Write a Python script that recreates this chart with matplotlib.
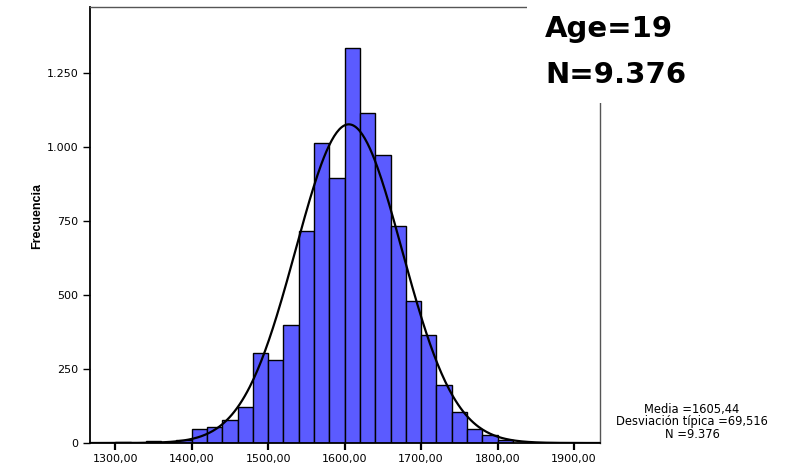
import numpy as np
import matplotlib.pyplot as plt
from matplotlib.patches import Rectangle
from matplotlib.ticker import FuncFormatter

plt.rcParams["font.family"] = ["DejaVu Sans"]

# histogram bins (width 20) and counts
bin_left = [1300, 1320, 1340, 1360, 1380, 1400, 1420, 1440, 1460, 1480,
            1500, 1520, 1540, 1560, 1580, 1600, 1620, 1640, 1660, 1680,
            1700, 1720, 1740, 1760, 1780, 1800]
counts = [3, 0, 6, 5, 9, 46, 54, 77, 122, 304,
          280, 400, 716, 1013, 895, 1333, 1115, 973, 733, 480,
          365, 196, 106, 48, 26, 10]
bin_width = 20

media = 1605.44
desv = 69.516
n_total = 9376

x_ticks = [1300, 1400, 1500, 1600, 1700, 1800, 1900]
y_ticks = [0, 250, 500, 750, 1000, 1250]

fig = plt.figure(figsize=(7.87, 4.67), dpi=100)
ax = fig.add_axes([0.1144, 0.0514, 0.648, 0.934])

ax.bar(bin_left, counts, width=bin_width, align="edge",
       color="#5b5bff", edgecolor="black", linewidth=1.0, zorder=2)

# normal curve from the stated mean / sd
xs = np.linspace(1267, 1934, 400)
ys = n_total * bin_width / (desv * np.sqrt(2 * np.pi)) * np.exp(-0.5 * ((xs - media) / desv) ** 2)
ax.plot(xs, ys, color="black", linewidth=1.6, zorder=3)

ax.set_xlim(1267, 1934)
ax.set_ylim(0, 1473)
ax.set_xticks(x_ticks)
ax.set_yticks(y_ticks)
ax.xaxis.set_major_formatter(FuncFormatter(lambda v, p: f"{v:.2f}".replace(".", ",")))
ax.yaxis.set_major_formatter(FuncFormatter(lambda v, p: f"{int(v):,}".replace(",", ".")))
ax.tick_params(axis="both", labelsize=8, direction="out", length=5, width=1)
ax.tick_params(axis="x", width=1.6, pad=3)

for s in ["left", "bottom"]:
    ax.spines[s].set_linewidth(1.3)
for s in ["top", "right"]:
    ax.spines[s].set_color("#555555")
    ax.spines[s].set_linewidth(1.0)

ax.set_ylabel("Frecuencia", fontsize=9, fontweight="bold",
              family=["Liberation Sans"], va="center")
ax.yaxis.set_label_coords(-0.104, 0.52)

# white box over the top-right corner with the title text
fig.patches.append(Rectangle((527 / 787, 1 - 103 / 467), 1, 1, transform=fig.transFigure,
                             facecolor="white", edgecolor="none", zorder=5))
fig.text(545 / 787, 1 - 37 / 467, "Age=19", fontsize=21, fontweight="bold", zorder=6)
fig.text(545 / 787, 1 - 83 / 467, "N=9.376", fontsize=21, fontweight="bold", zorder=6)

fig.text(692 / 787, 1 - 422 / 467,
         "Media =1605,44\nDesviación típica =69,516\nN =9.376",
         fontsize=8.3, ha="center", va="center", linespacing=0.9)

fig.savefig("out.png", dpi=100)
